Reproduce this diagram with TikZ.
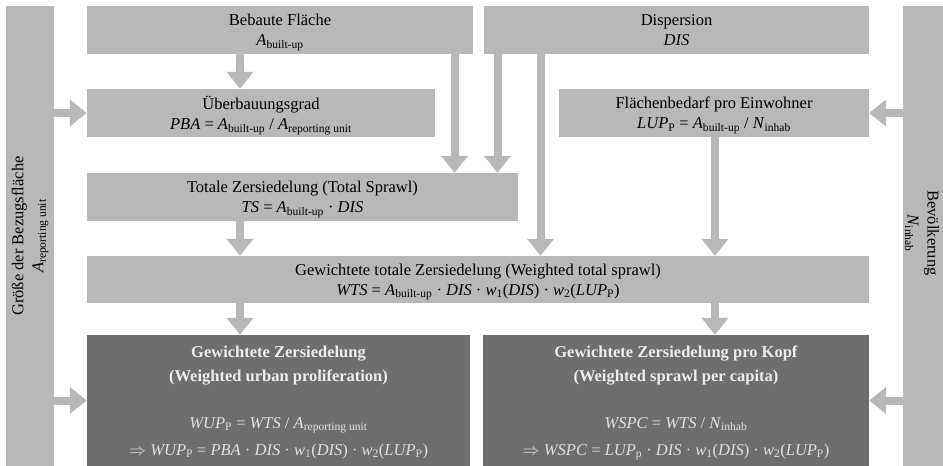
\documentclass[tikz,border=0pt]{standalone}
\usepackage{fontspec}
\setmainfont{Liberation Serif}
\usetikzlibrary{arrows.meta}
\definecolor{lightbox}{RGB}{184,184,184}
\definecolor{darkbox}{RGB}{110,110,110}
\definecolor{lighttext}{RGB}{236,236,236}
\definecolor{formtext}{RGB}{222,222,222}
\newcommand{\ivar}[1]{\textit{#1}}
\newcommand{\subx}[1]{\textsubscript{#1}}
\begin{document}
\begin{tikzpicture}[x=1pt,y=-1pt,
  box/.style={fill=lightbox, inner sep=0pt, align=center, text=black, text depth=0pt,
    font=\fontsize{16.5}{20}\selectfont},
  darkbx/.style={fill=darkbox, inner sep=0pt, align=center, text=formtext, text depth=-3pt,
    font=\fontsize{16.5}{24}\selectfont},
  bar/.style={fill=lightbox, inner sep=0pt},
  bartext/.style={inner sep=0pt, align=center, text=black,
    font=\fontsize{16.5}{20}\selectfont},
  arr/.style={draw=lightbox, line width=8pt, -{Triangle[width=26pt,length=17pt]}}
]
\useasboundingbox (0,0) rectangle (943,466);

% side bars
\node[bar, minimum width=48pt, minimum height=460pt] (leftbar) at (30,236) {};
\node[bartext, rotate=90] (lefttext) at (30,236) {Größe der Bezugsfläche\\ \ivar{A}\subx{reporting unit}};
\node[bar, minimum width=40pt, minimum height=460pt] (rightbar) at (923,236) {};
\node[bartext, rotate=-90] (righttext) at (922,233) {Bevölkerung\\ \ivar{N}\subx{inhab}};

% boxes
\node[box, minimum width=386pt, minimum height=48pt] (bebaute) at (280,30)
  {Bebaute Fläche\\ \ivar{A}\subx{built-up}};
\node[box, minimum width=385pt, minimum height=48pt] (disp) at (676.5,30)
  {Dispersion\\ \ivar{DIS}};
\node[box, minimum width=348pt, minimum height=48pt] (ueber) at (261,113)
  {Überbauungsgrad\\ \ivar{PBA} = \ivar{A}\subx{built-up} / \ivar{A}\subx{reporting unit}};
\node[box, minimum width=310pt, minimum height=48pt] (flaechen) at (714,113)
  {Flächenbedarf pro Einwohner\\ \ivar{LUP}\subx{P} = \ivar{A}\subx{built-up} / \ivar{N}\subx{inhab}};
\node[box, minimum width=431pt, minimum height=48pt] (totale) at (302.5,197)
  {Totale Zersiedelung (Total Sprawl)\\ \ivar{TS} = \ivar{A}\subx{built-up} · \ivar{DIS}};
\node[box, minimum width=782pt, minimum height=47pt] (gewtot) at (478,279.5)
  {Gewichtete totale Zersiedelung (Weighted total sprawl)\\ \ivar{WTS} = \ivar{A}\subx{built-up} · \ivar{DIS} · \ivar{w}\subx{1}(\ivar{DIS}) · \ivar{w}\subx{2}(\ivar{LUP}\subx{P})};
\node[darkbx, minimum width=383pt, minimum height=131pt] (wup) at (278.5,400.5)
  {\textcolor{lighttext}{\textbf{Gewichtete Zersiedelung}}\\
   \textcolor{lighttext}{\textbf{(Weighted urban proliferation)}}\\[23pt]
   \ivar{WUP}\subx{P} = \ivar{WTS} / \ivar{A}\subx{reporting unit}\\[3pt]
   $\Rightarrow$ \ivar{WUP}\subx{P} = \ivar{PBA} · \ivar{DIS} · \ivar{w}\subx{1}(\ivar{DIS}) · \ivar{w}\subx{2}(\ivar{LUP}\subx{P})};
\node[darkbx, minimum width=386pt, minimum height=131pt] (wspc) at (676,400.5)
  {\textcolor{lighttext}{\textbf{Gewichtete Zersiedelung pro Kopf}}\\
   \textcolor{lighttext}{\textbf{(Weighted sprawl per capita)}}\\[23pt]
   \ivar{WSPC} = \ivar{WTS} / \ivar{N}\subx{inhab}\\[3pt]
   $\Rightarrow$ \ivar{WSPC} = \ivar{LUP}\subx{p} · \ivar{DIS} · \ivar{w}\subx{1}(\ivar{DIS}) · \ivar{w}\subx{2}(\ivar{LUP}\subx{P})};

% x positions of vertical connectors
\coordinate (xa) at (240,0);
\coordinate (xb) at (454.5,0);
\coordinate (xc) at (497.5,0);
\coordinate (xd) at (540.5,0);
\coordinate (xe) at (715,0);

% vertical connectors
\draw[arr] (bebaute.south -| xa) -- (ueber.north -| xa);
\draw[arr] (bebaute.south -| xb) -- (totale.north -| xb);
\draw[arr] (disp.south -| xc) -- (totale.north -| xc);
\draw[arr] (disp.south -| xd) -- (gewtot.north -| xd);
\draw[arr] (flaechen.south -| xe) -- (gewtot.north -| xe);
\draw[arr] (totale.south -| xa) -- (gewtot.north -| xa);
\draw[arr] (gewtot.south -| xa) -- (wup.north -| xa);
\draw[arr] (gewtot.south -| xe) -- (wspc.north -| xe);

% horizontal connectors
\draw[arr] (leftbar.east |- ueber.west) -- (ueber.west);
\draw[arr] (leftbar.east |- wup.west) -- (wup.west);
\draw[arr] (rightbar.west |- flaechen.east) -- (flaechen.east);
\draw[arr] (rightbar.west |- wspc.east) -- (wspc.east);
\end{tikzpicture}
\end{document}
